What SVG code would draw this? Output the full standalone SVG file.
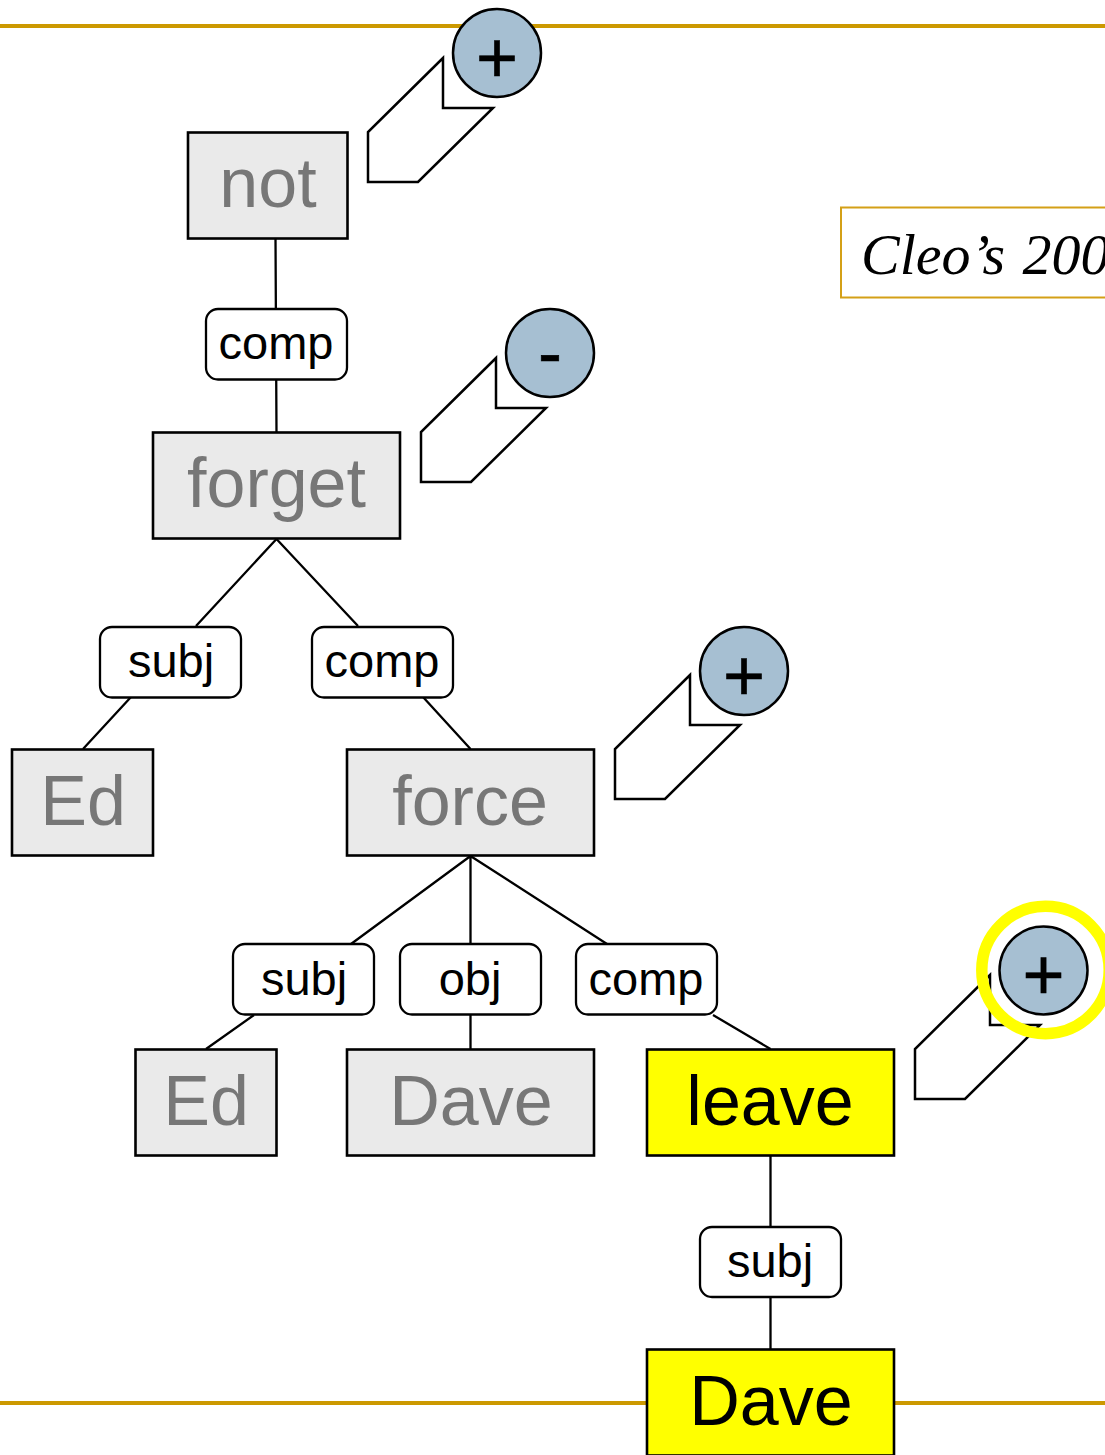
<svg xmlns="http://www.w3.org/2000/svg" width="1105" height="1455" viewBox="0 0 1105 1455">
<style>
text{font-family:"Liberation Sans",Arial,sans-serif;text-anchor:middle}
.rule{stroke:#cc9900;stroke-width:4;fill:none}
.conn{stroke:#000;stroke-width:2.3;fill:none}
.grey rect{fill:#eaeaea;stroke:#000;stroke-width:2.6}
.grey text{fill:#777;font-size:70px}
.hi rect{fill:#ffff00;stroke:#000;stroke-width:2.6}
.hi text{fill:#000;font-size:70px}
.lab rect{fill:#fff;stroke:#000;stroke-width:2.3}
.lab text{fill:#000;font-size:47px}
.flag{fill:#fff;stroke:#000;stroke-width:2.5}
.btn circle{fill:#a6bfd2;stroke:#000;stroke-width:2.5}
.btn text{fill:#000;font-size:72px;stroke:#000;stroke-width:.6}
</style>
<rect width="1105" height="1455" fill="#fff"/>
<g id="rules"><path class="rule" d="M0 26H1105"/><path class="rule" d="M0 1403H1105"/></g>
<g id="connectors">
<path class="conn" d="M275.500 238L276.500 432M276.500 539L196 626M276.500 539L358 626M131 697L83 749M423 697L470.500 749M470.500 856L351 944M470.500 856V944M470.500 856L607 944M254 1015L206 1049M470.500 1015V1049M713 1015L770.500 1049M770.500 1156V1349"/>
</g>
<g id="note"><rect x="841" y="207.500" width="300" height="90" fill="#fff" stroke="#d4a017" stroke-width="2"/><text x="861" y="274" style="font-family:'Liberation Serif',serif;font-style:italic;font-size:58px;text-anchor:start">Cleo’s <tspan dx="3">200</tspan></text></g>
<g id="node-not" class="grey"><rect x="188" y="132.500" width="159.500" height="106"/><text x="268" y="207">not</text></g>
<g id="node-forget" class="grey"><rect x="153" y="432.500" width="247" height="106"/><text x="276.500" y="507">forget</text></g>
<g id="node-ed1" class="grey"><rect x="12" y="749.500" width="141" height="106"/><text x="83" y="825">Ed</text></g>
<g id="node-force" class="grey"><rect x="347" y="749.500" width="247" height="106"/><text x="470" y="825">force</text></g>
<g id="node-ed2" class="grey"><rect x="135.500" y="1049.500" width="141" height="106"/><text x="206" y="1125">Ed</text></g>
<g id="node-dave1" class="grey"><rect x="347" y="1049.500" width="247" height="106"/><text x="471" y="1125">Dave</text></g>
<g id="node-leave" class="hi"><rect x="647" y="1049.500" width="247" height="106"/><text x="770" y="1125">leave</text></g>
<g id="node-dave2" class="hi"><rect x="647" y="1349.500" width="247" height="106"/><text x="771" y="1425">Dave</text></g>
<g id="label-comp1" class="lab"><rect x="206" y="309" width="141" height="70.500" rx="12"/><text x="276" y="359">comp</text></g>
<g id="label-subj1" class="lab"><rect x="100" y="627" width="141" height="70.500" rx="12"/><text x="171" y="677">subj</text></g>
<g id="label-comp2" class="lab"><rect x="312" y="627" width="141" height="70.500" rx="12"/><text x="382" y="677">comp</text></g>
<g id="label-subj2" class="lab"><rect x="233" y="944" width="141" height="70.500" rx="12"/><text x="304" y="995">subj</text></g>
<g id="label-obj" class="lab"><rect x="400" y="944" width="141" height="70.500" rx="12"/><text x="470" y="995">obj</text></g>
<g id="label-comp3" class="lab"><rect x="576" y="944" width="141" height="70.500" rx="12"/><text x="646" y="995">comp</text></g>
<g id="label-subj3" class="lab"><rect x="700" y="1227" width="141" height="70" rx="12"/><text x="770" y="1277">subj</text></g>
<polygon id="flag1" class="flag" points="443,58 368,132 368,182 418,182 493,108 443,108"/>
<polygon id="flag2" class="flag" points="496,358 421,432 421,482 471,482 546,408 496,408"/>
<polygon id="flag3" class="flag" points="690,675 615,749 615,799 665,799 740,725 690,725"/>
<polygon id="flag4" class="flag" points="990,975 915,1049 915,1099 965,1099 1040,1025 990,1025"/>
<g id="btn1" class="btn"><circle cx="497" cy="53" r="44"/><text x="497" y="82">+</text></g>
<g id="btn2" class="btn"><circle cx="550" cy="353" r="44"/><text x="550" y="377">-</text></g>
<g id="btn3" class="btn"><circle cx="744" cy="671" r="44"/><text x="744" y="700">+</text></g>
<circle id="ring" cx="1045.500" cy="970" r="63.700" fill="none" stroke="#ffff00" stroke-width="11.500"/>
<g id="btn4" class="btn"><circle cx="1043.500" cy="970.500" r="44"/><text x="1043.500" y="999">+</text></g>
</svg>
